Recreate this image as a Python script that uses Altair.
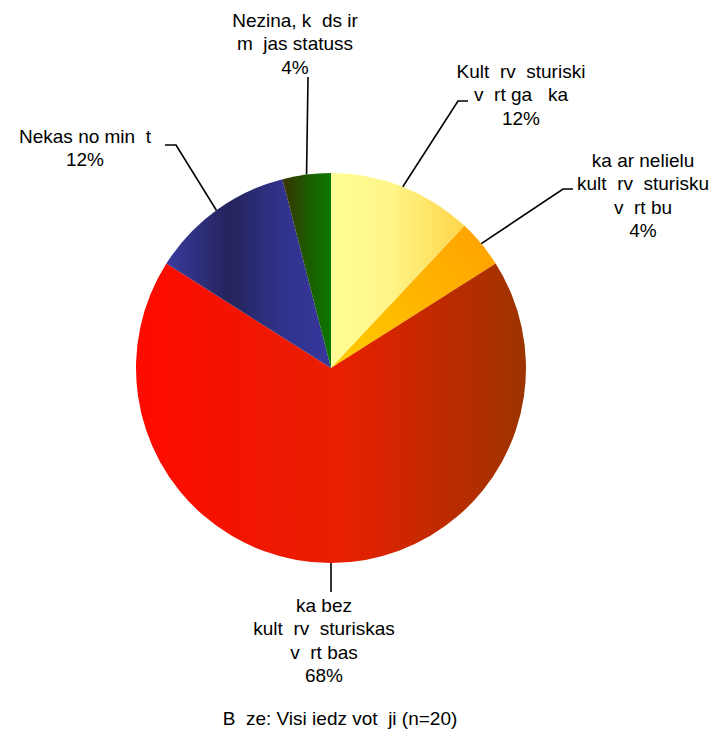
import math
import altair as alt
import pandas as pd

# gaps left in the labels where letters are missing
G = "\u00a0\u00a0"   # wide letter (ā, ē, ū, Ē)
g = "\u00a0"         # narrow letter (ī)

# ---------------- data ----------------
keys = ["kult", "neliela", "bez", "nekas", "nezina"]
values = [12, 4, 68, 12, 4]
label_lines = [
    ["Kult" + G + "rv" + G + "sturiski", "v" + G + "rt" + g + "ga " + G + "ka"],
    [G + "ka ar nelielu", "kult" + G + "rv" + G + "sturisku", "v" + G + "rt" + g + "bu"],
    [G + "ka bez", "kult" + G + "rv" + G + "sturiskas", "v" + G + "rt" + g + "bas"],
    ["Nekas no min" + G + "t" + G],
    ["Nezina, k" + G + "ds ir", "m" + G + "jas statuss"],
]
caption = "B" + G + "ze: Visi iedz" + g + "vot" + G + "ji (n=20)"

# ---------------- layout (pixels, relative to pie centre, y up) ----------------
W, H = 702, 722
CX, CY = 323, 360
R = 195
label_pos = {   # (x, first baseline y)
    "kult": (190, 290),
    "neliela": (312, 201),
    "bez": (-7, -244),
    "nekas": (-246, 225),
    "nezina": (-36, 341),
}
elbows = {      # leader line: bend point, end point
    "kult": [(127, 267), (137, 267)],
    "neliela": [(232, 179), (242, 179)],
    "bez": [(0, -224)],
    "nekas": [(-155, 223), (-166, 223)],
    "nezina": [(-23, 291)],
}
caption_pos = (9, -357)

fills = {
    "kult": alt.Gradient(gradient="linear", x1=0, y1=0, x2=1, y2=0, stops=[
        alt.GradientStop(color="#FFFD96", offset=0),
        alt.GradientStop(color="#FFF588", offset=0.45),
        alt.GradientStop(color="#FFD54A", offset=1)]),
    "neliela": alt.Gradient(gradient="linear", x1=0, y1=1, x2=1, y2=0, stops=[
        alt.GradientStop(color="#FFCC00", offset=0),
        alt.GradientStop(color="#FFA000", offset=1)]),
    "bez": alt.Gradient(gradient="linear", x1=0, y1=0, x2=1, y2=0, stops=[
        alt.GradientStop(color="#FF0A00", offset=0),
        alt.GradientStop(color="#E52000", offset=0.55),
        alt.GradientStop(color="#9C3400", offset=1)]),
    "nekas": alt.Gradient(gradient="linear", x1=0, y1=0, x2=1, y2=0, stops=[
        alt.GradientStop(color="#3A3A9E", offset=0),
        alt.GradientStop(color="#25245C", offset=0.38),
        alt.GradientStop(color="#32338E", offset=0.72),
        alt.GradientStop(color="#36379A", offset=1)]),
    "nezina": alt.Gradient(gradient="linear", x1=0, y1=0, x2=1, y2=0, stops=[
        alt.GradientStop(color="#3A3200", offset=0),
        alt.GradientStop(color="#1E5A00", offset=0.5),
        alt.GradientStop(color="#0A7800", offset=1)]),
}

# ---------------- tables ----------------
total = sum(values)
rows, cum = [], 0
for k, v in zip(keys, values):
    rows.append({"key": k, "value": v, "start": cum, "end": cum + v, "cx": 0, "cy": 0})
    cum += v
slices = pd.DataFrame(rows)

line_rows, text_rows = [], []
for r in rows:
    mid = (r["start"] + r["end"]) / 2 / total * 2 * math.pi
    pts = [(R * math.sin(mid), R * math.cos(mid))] + elbows[r["key"]]
    for i, (px, py) in enumerate(pts):
        line_rows.append({"key": r["key"], "step": i, "x": px, "y": py})
    lx, ly = label_pos[r["key"]]
    lines = label_lines[keys.index(r["key"])] + [f"{r['value']}%"]
    text_rows.append({"x": lx, "y": ly, "text": "\n".join(lines)})
text_rows.append({"x": caption_pos[0], "y": caption_pos[1], "text": caption})
leaders = pd.DataFrame(line_rows)
texts = pd.DataFrame(text_rows)

xs = alt.Scale(domain=[-CX, W - CX], nice=False, zero=False)
ys = alt.Scale(domain=[-(H - CY), CY], nice=False, zero=False)
ts = alt.Scale(domain=[0, total])

arcs = []
for k in keys:
    arcs.append(
        alt.Chart(slices).transform_filter(alt.datum.key == k)
        .mark_arc(outerRadius=R, fill=fills[k])
        .encode(
            x=alt.X("cx:Q", scale=xs, axis=None),
            y=alt.Y("cy:Q", scale=ys, axis=None),
            theta=alt.Theta("start:Q", scale=ts),
            theta2="end:Q",
        )
    )

lines = alt.Chart(leaders).mark_line(color="black", strokeWidth=1.6).encode(
    x=alt.X("x:Q", scale=xs, axis=None),
    y=alt.Y("y:Q", scale=ys, axis=None),
    detail="key:N",
    order="step:Q",
)

labels = alt.Chart(texts).mark_text(
    align="center", baseline="alphabetic", lineBreak="\n", lineHeight=23.4,
    fontSize=19, font="Liberation Sans", color="black",
).encode(
    x=alt.X("x:Q", scale=xs, axis=None),
    y=alt.Y("y:Q", scale=ys, axis=None),
    text="text:N",
)

chart = alt.layer(*arcs, lines, labels).properties(
    width=W, height=H, autosize="none", padding=0
).configure_view(stroke=None)

chart.save("out.html", embed_options={"renderer": "svg", "actions": False})
